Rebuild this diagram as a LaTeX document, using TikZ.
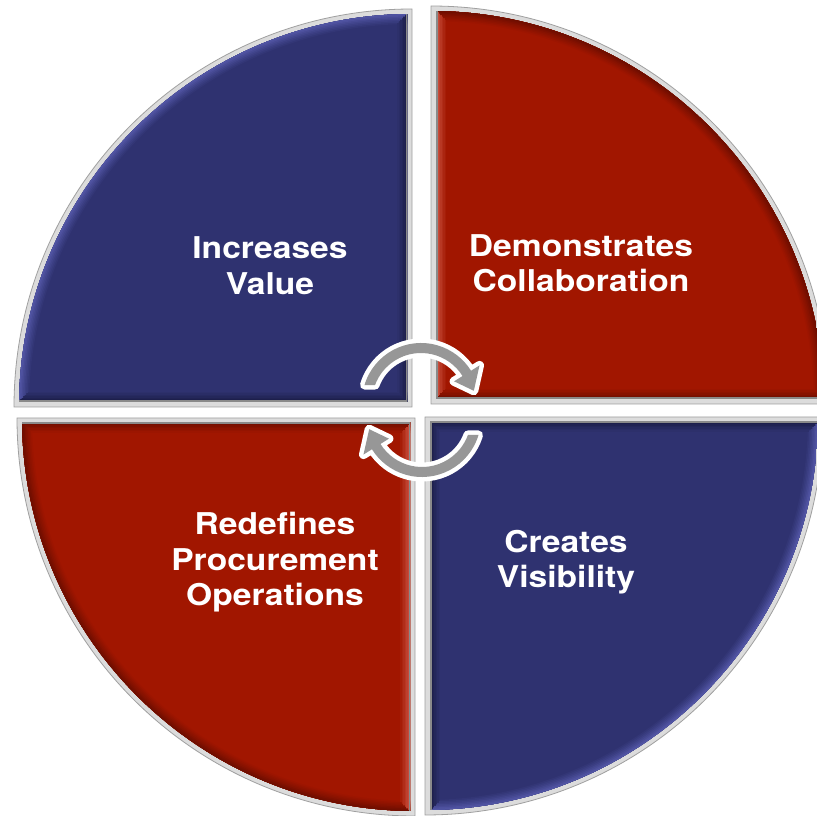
\documentclass[tikz,border=0pt]{standalone}
\usepackage{fontspec}
\setmainfont{TeX Gyre Heros}
\definecolor{qblue}{HTML}{2F3270}
\definecolor{qred}{HTML}{A11600}
\definecolor{bluelight}{HTML}{5559AA}
\definecolor{bluedark}{HTML}{181A42}
\definecolor{redlight}{HTML}{D05A4A}
\definecolor{reddark}{HTML}{6A0D00}
\definecolor{bordfill}{HTML}{DCDCDC}
\definecolor{bordline}{HTML}{A0A0A0}
\definecolor{borddark}{HTML}{8A8A8A}
\definecolor{arrowgray}{HTML}{979797}
\tikzset{
  qtext/.style={text=white, font=\bfseries\fontsize{30}{35.5}\selectfont,
    align=center, inner sep=0pt, anchor=north, xscale=1.12},
  cyclearrow/.style={fill=arrowgray,
    preaction={draw=white, line width=9pt, line join=round}},
}
% #1 x, #2 y, #3 start angle, #4 sx, #5 sy, #6 main, #7 arc shade, #8 vertical-edge shade, #9 horizontal-edge shade
\newcommand\drawquad[9]{%
  \begin{scope}[shift={(#1,#2)}]
    \fill[bordfill, draw=bordline, line width=0.8pt] (0,0) -- (#3:398)
      arc[start angle=#3, delta angle=90, radius=398] -- cycle;
    \begin{scope}
      \clip (0,0) circle[radius=393];
      \clip (#4*5,#5*5) rectangle (#4*400,#5*400);
      \fill[#6] (#4*5,#5*5) rectangle (#4*400,#5*400);
      \foreach \w/\m in {20/10,17/22,14/34,11/48,8/62,5/78,2/92}{
        \draw[line width=\w pt, #7!\m!#6] (0,0) circle[radius=393];
        \draw[line width=\w pt, #8!\m!#6] (#4*5,0) -- (#4*5,#5*400);
        \draw[line width=\w pt, #9!\m!#6] (0,#5*5) -- (#4*400,#5*5);
      }
      \draw[line width=3pt, borddark] (#4*5,0) -- (#4*5,#5*400);
      \draw[line width=3pt, borddark] (0,#5*5) -- (#4*400,#5*5);
    \end{scope}
  \end{scope}}
\begin{document}
\begin{tikzpicture}[x=1pt, y=1pt]
  \useasboundingbox (0,0) rectangle (817,815);
  \clip (0,0) rectangle (817,815);
  \fill[white] (0,0) rectangle (817,815);
  % quadrants
  \drawquad{412}{408}{90}{-1}{1}{qblue}{bluelight}{bluedark}{bluedark}
  \drawquad{431}{411}{0}{1}{1}{qred}{reddark}{redlight}{reddark}
  \drawquad{415}{397}{180}{-1}{-1}{qred}{reddark}{redlight}{reddark}
  \drawquad{425}{398}{270}{1}{-1}{qblue}{bluelight}{bluedark}{bluedark}
  % cycle arrows
  \begin{scope}[shift={(421,413)}]
    \path[cyclearrow] (163.3:59) arc[start angle=163.3, end angle=32, radius=59]
      -- (32:69) -- (12:54) -- (32:39) -- (32:49)
      arc[start angle=32, end angle=159.7, radius=49] -- cycle;
  \end{scope}
  \begin{scope}[shift={(422,397)}]
    \path[cyclearrow] (343.3:59) arc[start angle=343.3, end angle=212, radius=59]
      -- (212:69) -- (192:54) -- (212:39) -- (212:49)
      arc[start angle=212, end angle=339.7, radius=49] -- cycle;
  \end{scope}
  % labels
  \node[qtext] (nIV) at (270,578.3) {Increases\\Value};
  \node[qtext] (nDC) at (581,581) {Demonstrates\\Collaboration};
  \node[qtext] (nRP) at (275,303) {Redefines\\Procurement\\Operations};
  \node[qtext] (nCV) at (566,285) {Creates\\Visibility};
\end{tikzpicture}
\end{document}
